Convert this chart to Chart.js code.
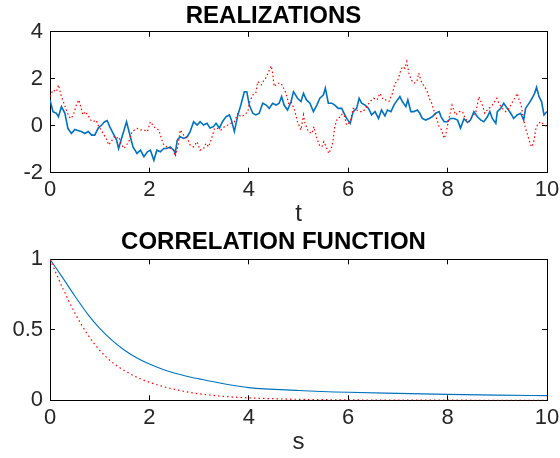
<!DOCTYPE html>
<html>
<head>
<meta charset="utf-8">
<script src="https://cdn.jsdelivr.net/npm/chart.js@4.4.0/dist/chart.umd.min.js"></script>
<style>
  body { margin: 0; background: #fff; }
  #wrap { position: relative; width: 560px; height: 458px; }
  canvas { position: absolute; left: 0; }
  #realChart { top: 0; }
  #corrChart { top: 226px; }
</style>
</head>
<body>
<div id="wrap">
  <canvas id="realChart" width="560" height="229"></canvas>
  <canvas id="corrChart" width="560" height="232"></canvas>
</div>
<script>
// realization 1 (blue, solid)
const blueTime = [0, 0.06, 0.13, 0.17, 0.23, 0.3, 0.36, 0.43, 0.5, 0.56, 0.63, 0.7, 0.77, 0.84, 0.9, 0.97,
  1.04, 1.1, 1.15, 1.2, 1.27, 1.34, 1.38, 1.43, 1.54, 1.6, 1.67, 1.75, 1.82, 1.89, 1.96,
  2.02, 2.09, 2.15, 2.22, 2.29, 2.35, 2.42, 2.49, 2.52, 2.56, 2.62, 2.69, 2.76, 2.82, 2.89, 2.96,
  3.02, 3.09, 3.16, 3.22, 3.29, 3.34, 3.41, 3.47, 3.54, 3.61, 3.65, 3.71, 3.78, 3.84, 3.91, 3.96,
  4.01, 4.08, 4.14, 4.21, 4.28, 4.35, 4.41, 4.48, 4.55, 4.61, 4.66, 4.71, 4.78, 4.85, 4.9, 4.98,
  5.05, 5.1, 5.16, 5.23, 5.3, 5.37, 5.43, 5.5, 5.54, 5.6, 5.67, 5.73, 5.8, 5.87, 5.9, 5.97,
  6.04, 6.1, 6.17, 6.22, 6.27, 6.34, 6.41, 6.47, 6.54, 6.61, 6.67, 6.74, 6.79, 6.86, 6.92, 6.99,
  7.04, 7.09, 7.16, 7.2, 7.26, 7.32, 7.39, 7.44, 7.49, 7.56, 7.63, 7.69, 7.76, 7.83, 7.87, 7.93, 7.99,
  8.06, 8.13, 8.2, 8.26, 8.33, 8.4, 8.46, 8.53, 8.6, 8.67, 8.73, 8.8, 8.85, 8.9, 8.97,
  9.0, 9.07, 9.13, 9.2, 9.27, 9.33, 9.4, 9.47, 9.53, 9.57, 9.64, 9.7, 9.75, 9.79, 9.84, 9.89, 9.94, 10];
const blueValues = [1.1, 0.6, 0.53, 0.38, 0.81, 0.53, -0.11, -0.33, -0.16, -0.2, -0.25, -0.33, -0.25, -0.4, -0.4, -0.1,
  0.03, 0.17, 0.22, -0.04, -0.33, -0.61, -0.97, -0.61, 0.17, -0.33, -0.9, -1.18, -1.04, -1.32, -1.11,
  -1.04, -1.47, -1.04, -1.11, -0.97, -0.97, -0.9, -1.04, -1.18, -0.61, -0.47, -0.54, -0.47, -0.25, 0.17, 0.03,
  0.17, 0.03, 0.1, -0.1, -0.04, 0.1, -0.1, 0.17, 0.38, 0.46, 0.24, -0.25, 0.46, 0.88, 1.45, 1.45,
  0.88, 0.53, 0.46, 0.53, 0.96, 0.88, 0.74, 0.96, 0.88, 0.96, 1.24, 0.88, 0.67, 1.03, 1.45, 1.17,
  1.03, 1.38, 1.1, 0.96, 0.6, 0.88, 1.17, 1.31, 1.6, 0.96, 0.96, 0.88, 0.74, 0.74, 0.6, 0.31,
  0.1, 0.6, 0.74, 1.17, 0.96, 0.88, 0.74, 0.46, 0.6, 0.31, 0.67, 0.42, 0.67, 0.6, 0.88, 1.1,
  1.24, 1.03, 0.81, 1.1, 0.6, 0.6, 0.67, 0.53, 0.31, 0.24, 0.31, 0.38, 0.53, 0.6, 0.38, 0.17, 0.17,
  0.31, 0.31, 0.24, -0.1, 0.3, 0.14, 0.24, 0.6, 0.38, 0.24, 0.17, 0.38, 0.6, 0.31, 0.1,
  0.6, 0.74, 0.96, 0.74, 0.53, 0.31, 0.46, 0.53, 0.24, 0.74, 0.96, 1.17, 1.38, 1.64, 1.24, 1.03, 0.46, 0.6];

// realization 2 (red, dotted)
const redTime = [0, 0.06, 0.13, 0.17, 0.23, 0.28, 0.33, 0.38, 0.43, 0.48, 0.53, 0.58, 0.62, 0.66, 0.71, 0.76, 0.82, 0.87, 0.93, 0.98,
  1.03, 1.09, 1.13, 1.18, 1.23, 1.29, 1.34, 1.38, 1.43, 1.49, 1.54, 1.6, 1.65, 1.75, 1.82, 1.89, 1.96,
  2.02, 2.07, 2.12, 2.19, 2.24, 2.29, 2.35, 2.42, 2.49, 2.52, 2.58, 2.62, 2.69, 2.76, 2.82, 2.89, 2.96,
  3.02, 3.09, 3.14, 3.19, 3.26, 3.31, 3.37, 3.44, 3.51, 3.58, 3.64, 3.71, 3.78, 3.84, 3.91, 3.98,
  4.02, 4.08, 4.14, 4.18, 4.25, 4.31, 4.36, 4.4, 4.45, 4.48, 4.51, 4.58, 4.65, 4.7, 4.75, 4.8, 4.85, 4.92, 4.98,
  5.05, 5.1, 5.13, 5.2, 5.27, 5.31, 5.37, 5.42, 5.47, 5.51, 5.57, 5.61, 5.67, 5.7, 5.73, 5.78, 5.85, 5.9, 5.97,
  6.04, 6.1, 6.17, 6.24, 6.3, 6.37, 6.44, 6.51, 6.58, 6.64, 6.71, 6.75, 6.82, 6.89, 6.94, 6.99,
  7.04, 7.09, 7.14, 7.18, 7.22, 7.27, 7.32, 7.38, 7.42, 7.47, 7.53, 7.58, 7.63, 7.68, 7.73, 7.79, 7.83, 7.88, 7.93, 7.96,
  8.02, 8.09, 8.16, 8.23, 8.3, 8.36, 8.43, 8.5, 8.57, 8.63, 8.7, 8.75, 8.8, 8.87, 8.93, 8.99,
  9.03, 9.1, 9.17, 9.24, 9.31, 9.35, 9.4, 9.44, 9.48, 9.52, 9.56, 9.59, 9.63, 9.67, 9.7, 9.74, 9.77, 9.82, 9.88, 9.94, 10];
const redValues = [1.24, 1.52, 1.45, 1.74, 1.24, 0.96, 0.67, 0.38, 0.31, 0.53, 0.88, 1.1, 0.81, 0.46, 0.6, 0.46, 0.24, 0.17, 0.24, -0.04,
  -0.18, -0.4, -0.54, -0.82, -0.68, -0.47, -0.54, -0.47, -0.75, -0.97, -0.82, -0.61, -0.25, -0.11, -0.18, -0.18, -0.25,
  0.17, 0.03, -0.11, -0.18, -0.54, -0.82, -0.9, -0.97, -1.04, -1.32, -0.82, -0.18, -0.4, -0.54, -0.82, -0.9, -0.68,
  -1.04, -0.97, -0.75, -0.9, -0.47, -0.11, -0.11, -0.18, -0.04, 0.03, 0.1, 0.17, 0.53, 0.38, 0.46, 0.6,
  1.03, 1.31, 1.38, 1.88, 1.74, 1.95, 2.09, 2.31, 2.55, 2.24, 1.67, 1.81, 1.81, 1.6, 1.38, 0.96, 1.03, 0.67, 0.17,
  -0.18, 0.46, 0.1, -0.25, -0.33, -0.04, -0.54, -0.82, -0.9, -0.68, -0.97, -1.18, -0.9, -0.54, -0.04, 0.31, 0.38, 0.6, 0.03,
  0.17, 0.74, 0.67, 0.6, 0.6, 0.81, 1.03, 1.17, 1.1, 1.38, 1.1, 1.1, 1.03, 1.38, 1.81, 1.88,
  2.24, 2.52, 2.45, 2.74, 2.24, 1.95, 1.81, 1.88, 2.24, 1.88, 1.67, 1.52, 1.17, 0.96, 0.6, 0.24, -0.04, -0.18, -0.54, -0.4,
  0.24, 0.88, 0.46, 0.6, 0.6, 0.28, 0.17, 0.38, 0.6, 1.24, 0.88, 0.53, 0.67, 0.81, 0.96, 1.17,
  0.96, 0.74, 0.6, 0.74, 1.03, 1.17, 1.38, 1.1, 0.88, 0.38, -0.04, -0.25, -0.54, -0.82, -0.9, -0.61, -0.18, 0.1, 0.17, 0.03, -0.04];

// correlation functions
const corrLag = [0, 0.25, 0.5, 0.75, 1, 1.25, 1.5, 1.75, 2, 2.25, 2.5, 2.75, 3, 3.5, 4, 5, 6, 7, 8, 9, 10];
const corrBlue = [1, 0.872, 0.74, 0.615, 0.51, 0.425, 0.355, 0.3, 0.257, 0.222, 0.194, 0.171, 0.152, 0.117, 0.09, 0.07, 0.057, 0.049, 0.042, 0.037, 0.033];
const corrRed = [1, 0.8, 0.62, 0.47, 0.355, 0.27, 0.21, 0.163, 0.128, 0.1, 0.078, 0.06, 0.046, 0.028, 0.017, 0.007, 0.003, 0.001, 0.001, 0, 0];

const xTicks = [0, 2, 4, 6, 8, 10];

const axisColor = '#262626';
const frameColor = '#000000';
Chart.defaults.font.family = '"Liberation Sans", Arial, Helvetica, sans-serif';
Chart.defaults.color = axisColor;

const toPoints = (xs, ys) => xs.map((x, i) => ({ x: x, y: ys[i] }));

// axis lines with short inward ticks (negative tickLength), like the original box
const boxBorder = { display: true, color: frameColor, width: 1 };
const boxGrid = { display: true, drawOnChartArea: false, drawTicks: true, tickLength: -5, color: frameColor, lineWidth: 1 };

function makeOptions(title, titlePad, xLabel, xLabelPad, xHeight, yMin, yMax, yStep) {
  const setXTicks = s => { s.ticks = xTicks.map(v => ({ value: v })); };
  return {
    responsive: false,
    animation: false,
    layout: { padding: { left: 0, right: 13, top: 0, bottom: 0 } },
    plugins: {
      legend: { display: false },
      tooltip: { enabled: false },
      title: {
        display: true,
        text: title,
        color: '#000',
        font: { size: 24, weight: 'bold' },
        padding: titlePad
      }
    },
    scales: {
      x: {
        type: 'linear',
        min: 0,
        max: 10,
        afterBuildTicks: setXTicks,
        ticks: { font: { size: 22 }, padding: 9, maxRotation: 0, color: axisColor },
        grid: boxGrid,
        border: boxBorder,
        title: { display: true, text: xLabel, color: axisColor, font: { size: 24 }, padding: { top: 0, bottom: xLabelPad } },
        afterFit: s => { s.height = xHeight; s.paddingLeft = 0; s.paddingRight = 0; }
      },
      x2: {
        type: 'linear',
        position: 'top',
        min: 0,
        max: 10,
        afterBuildTicks: setXTicks,
        ticks: { display: false },
        grid: boxGrid,
        border: boxBorder,
        afterFit: s => { s.height = 0; s.paddingLeft = 0; s.paddingRight = 0; }
      },
      y: {
        min: yMin,
        max: yMax,
        ticks: { stepSize: yStep, font: { size: 22 }, padding: 12, color: axisColor, callback: v => String(v) },
        grid: boxGrid,
        border: boxBorder,
        afterFit: s => { s.width = 50; }
      },
      y2: {
        position: 'right',
        min: yMin,
        max: yMax,
        ticks: { display: false, stepSize: yStep },
        grid: boxGrid,
        border: boxBorder,
        afterFit: s => { s.width = 0; }
      }
    }
  };
}

new Chart(document.getElementById('realChart'), {
  type: 'line',
  data: {
    datasets: [
      {
        data: toPoints(redTime, redValues),
        borderColor: '#ff0000',
        borderWidth: 1.2,
        borderDash: [1.5, 2.5],
        pointRadius: 0,
        tension: 0
      },
      {
        data: toPoints(blueTime, blueValues),
        borderColor: '#0072bd',
        borderWidth: 1.6,
        pointRadius: 0,
        tension: 0
      }
    ]
  },
  options: makeOptions('REALIZATIONS', { top: 2, bottom: 1 }, 't', 0, 56.3, -2, 4, 2)
});

new Chart(document.getElementById('corrChart'), {
  type: 'line',
  data: {
    datasets: [
      {
        data: toPoints(corrLag, corrRed),
        borderColor: '#ff0000',
        borderWidth: 1.2,
        borderDash: [1.5, 3],
        pointRadius: 0,
        cubicInterpolationMode: 'monotone'
      },
      {
        data: toPoints(corrLag, corrBlue),
        borderColor: '#0072bd',
        borderWidth: 1.1,
        pointRadius: 0,
        cubicInterpolationMode: 'monotone'
      }
    ]
  },
  options: makeOptions('CORRELATION FUNCTION', { top: 2, bottom: 2.5 }, 's', 1.5, 57.7, 0, 1, 0.5)
});
</script>
</body>
</html>
